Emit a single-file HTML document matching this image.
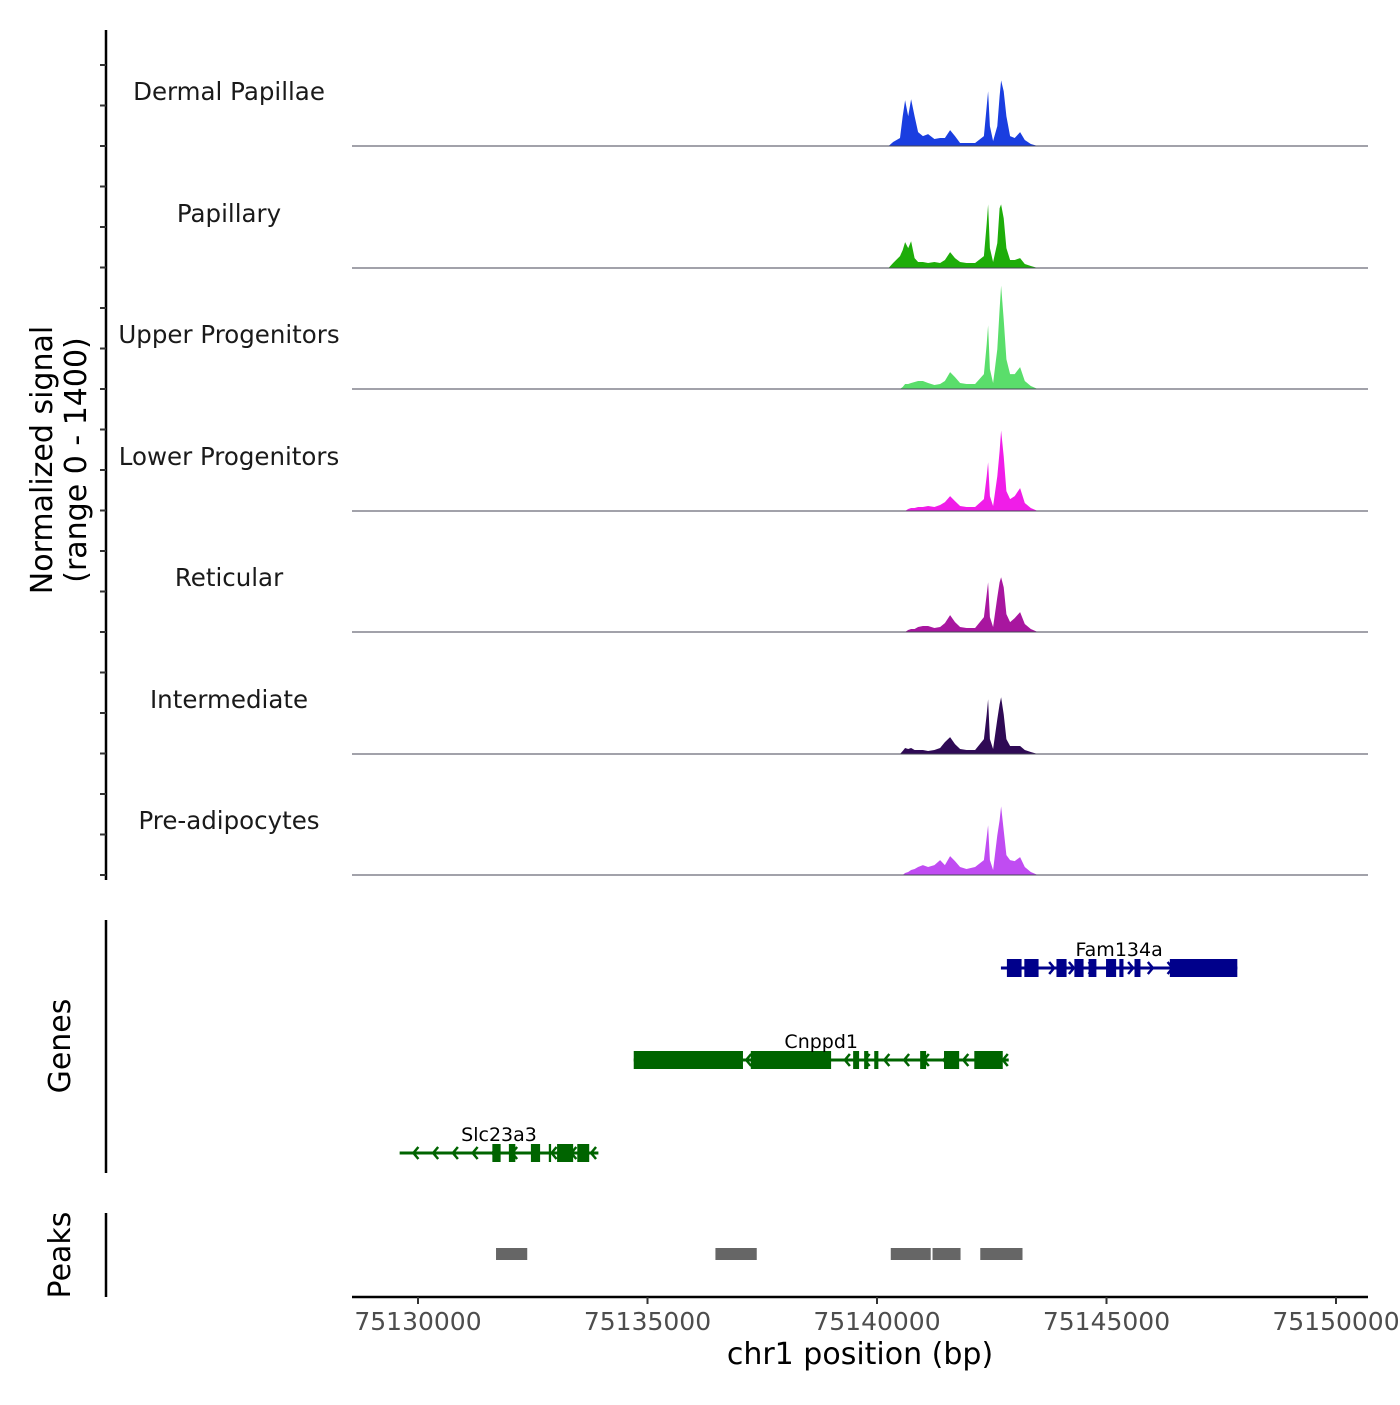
<!DOCTYPE html>
<html><head><meta charset="utf-8"><style>
body{margin:0;background:#fff}
svg text{font-family:"DejaVu Sans","Liberation Sans",sans-serif}
</style></head><body>
<svg id="chart" width="1400" height="1400" viewBox="0 0 1400 1400" xmlns="http://www.w3.org/2000/svg">
<g id="tracks"></g>
<g id="genes"></g>
<g id="peaks"></g>
<g id="axes"></g>
</svg>
<script>
const trackNames = ["Dermal Papillae","Papillary","Upper Progenitors","Lower Progenitors","Reticular","Intermediate","Pre-adipocytes"];
const trackColors = ["#1a3ee0","#1ead0a","#5ade6b","#f01de8","#a8169f","#2f0a55","#c04cf2"];
const positions = [75140250,75140350,75140500,75140560,75140612,75140680,75140742,75140820,75140895,75141000,75141113,75141250,75141374,75141480,75141592,75141700,75141810,75141950,75142137,75142330,75142390,75142420,75142460,75142529,75142620,75142670,75142704,75142760,75142820,75142900,75143000,75143118,75143220,75143350,75143500];
const sigDermal = [0,48,96,360,552,360,564,360,168,120,144,84,96,96,192,120,36,36,36,120,480,660,240,60,240,600,792,660,360,120,96,168,72,24,0];
const sigPapillary = [0,60,144,216,312,240,324,120,72,72,60,72,60,96,192,120,72,60,60,144,540,768,240,72,300,720,768,600,240,96,96,120,48,24,0];
const sigUpper = [0,0,0,24,60,60,72,84,96,96,72,48,60,96,204,144,72,60,60,180,540,768,240,72,480,960,1248,840,360,180,180,264,96,36,0];
const sigLower = [0,0,0,0,0,24,36,36,48,48,60,48,72,108,180,120,60,48,48,144,420,588,180,60,420,720,972,660,240,144,180,276,96,36,0];
const sigReticular = [0,0,0,0,0,24,36,36,60,72,72,48,60,108,204,120,60,48,48,180,456,600,180,60,420,600,660,540,216,120,168,240,96,36,0];
const sigIntermediate = [0,0,0,36,72,60,72,48,48,48,36,48,72,144,204,120,60,48,48,180,480,660,180,60,420,600,684,480,180,96,96,96,48,24,0];
const sigPre = [0,0,0,0,24,36,60,72,96,120,96,120,180,120,228,168,96,72,96,180,456,600,180,60,480,660,828,540,240,180,168,216,96,36,0];
const signals = [sigDermal,sigPapillary,sigUpper,sigLower,sigReticular,sigIntermediate,sigPre];
const xTicks = [75130000,75135000,75140000,75145000,75150000];
const peakStarts = [75131700,75136480,75140300,75141210,75142250];
const peakEnds = [75132380,75137380,75141170,75141820,75143170];
const geneNames = ["Fam134a","Cnppd1","Slc23a3"];
const geneStarts = [75142700,75134700,75129600];
const geneEnds = [75147850,75142870,75133930];
const geneStrand = [1,-1,-1];
const geneColors = ["#00008b","#006400","#006400"];
const exonsFam = [[75142830,75143150],[75143210,75143520],[75143910,75144130],[75144300,75144500],[75144610,75144780],[75144990,75145210],[75145280,75145370],[75145610,75145740],[75146380,75147850]];
const exonsCnp = [[75134700,75137080],[75137250,75139000],[75139480,75139610],[75139720,75139810],[75139940,75140030],[75140940,75141070],[75141460,75141790],[75142120,75142740]];
const exonsSlc = [[75131620,75131800],[75131980,75132120],[75132460,75132660],[75132850,75132900],[75133030,75133380],[75133470,75133730]];
const geneExons = [exonsFam,exonsCnp,exonsSlc];

const NS="http://www.w3.org/2000/svg";
const X0=75130000, PX0=418, PXPB=918/20000;
const xs = bp => PX0 + (bp-X0)*PXPB;
const baselines=[146,268,389,511,632,754,875];
const ys = (v,b) => b - v/1400*116;
function el(tag,attrs,parent,txt){const e=document.createElementNS(NS,tag);for(const k in attrs)e.setAttribute(k,attrs[k]);if(txt!=null)e.textContent=txt;parent.appendChild(e);return e;}
const T=document.getElementById('tracks'),G=document.getElementById('genes'),P=document.getElementById('peaks'),A=document.getElementById('axes');

signals.forEach((s,i)=>{
  const b=baselines[i];
  let d=`M${xs(positions[0])},${b}`;
  s.forEach((v,j)=>{d+=` L${xs(positions[j]).toFixed(1)},${ys(v,b).toFixed(1)}`;});
  d+=` L${xs(positions[positions.length-1])},${b} Z`;
  const p=el('path',{d:d,fill:trackColors[i]},T);
  
  
  const l=el('line',{x1:352,x2:1368,y1:b,y2:b,stroke:'#445',"stroke-width":1},T);
  
  
  const t=el('text',{x:229,y:b-46,"text-anchor":"middle","font-size":24.5,fill:'#1a1a1a'},T,trackNames[i]);
  
  
});

const geneY=[968,1060,1153];
geneNames.forEach((g,i)=>{
  const y=geneY[i],c=geneColors[i];
  const ln=el('line',{x1:xs(geneStarts[i]),x2:xs(geneEnds[i]),y1:y,y2:y,stroke:c,"stroke-width":3},G);
  
  
  for(let bp=geneStarts[i]+300;bp<geneEnds[i];bp+=430){
    const x=xs(bp),dx=5*geneStrand[i];
    const ch=el('path',{d:`M${x-dx},${y-6} L${x},${y} L${x-dx},${y+6}`,stroke:c,"stroke-width":2.5,fill:'none'},G);
    
    
  }
  geneExons[i].forEach(e=>{
    const r=el('rect',{x:xs(e[0]),y:y-9,width:xs(e[1])-xs(e[0]),height:18,fill:c},G);
    
    
  });
  const lbl=el('text',{x:(xs(geneStarts[i])+xs(geneEnds[i]))/2,y:y-12,"text-anchor":"middle","font-size":19,fill:'#000'},G,g);
  
  
});

peakStarts.forEach((s,i)=>{
  const r=el('rect',{x:xs(s),y:1248,width:xs(peakEnds[i])-xs(s),height:12,fill:'#666'},P);
  
  
});

const ax=el('line',{x1:352,x2:1368,y1:1297,y2:1297,stroke:'#000',"stroke-width":2.5},A);


xTicks.forEach(t=>{
  const x=xs(t);
  const tk=el('line',{x1:x,x2:x,y1:1297,y2:1304,stroke:'#333',"stroke-width":2},A);
  
  
  const tl=el('text',{x:x,y:1330,"text-anchor":"middle","font-size":25,fill:'#4d4d4d'},A,String(t));
  
  
});
const xt=el('text',{x:860,y:1364,"text-anchor":"middle","font-size":30,fill:'#000'},A,'chr1 position (bp)');


[[30,880],[920,1173],[1213,1297]].forEach((r,i)=>{
  const l=el('line',{x1:106,x2:106,y1:r[0],y2:r[1],stroke:'#000',"stroke-width":2.5},A);
  
  
});
for(let k=0;k<21;k++){
  const y=875-k*40.5;
  const tk=el('line',{x1:100,x2:106,y1:y,y2:y,stroke:'#333',"stroke-width":2},A);
  
  
}
const yt1=el('text',{transform:'translate(52,460) rotate(-90)',"text-anchor":"middle","font-size":30,fill:'#000'},A,'Normalized signal');


const yt2=el('text',{transform:'translate(86,460) rotate(-90)',"text-anchor":"middle","font-size":30,fill:'#000'},A,'(range 0 - 1400)');


const gt=el('text',{transform:'translate(70,1046) rotate(-90)',"text-anchor":"middle","font-size":30,fill:'#000'},A,'Genes');


const pt=el('text',{transform:'translate(70,1255) rotate(-90)',"text-anchor":"middle","font-size":30,fill:'#000'},A,'Peaks');


</script>
</body></html>
